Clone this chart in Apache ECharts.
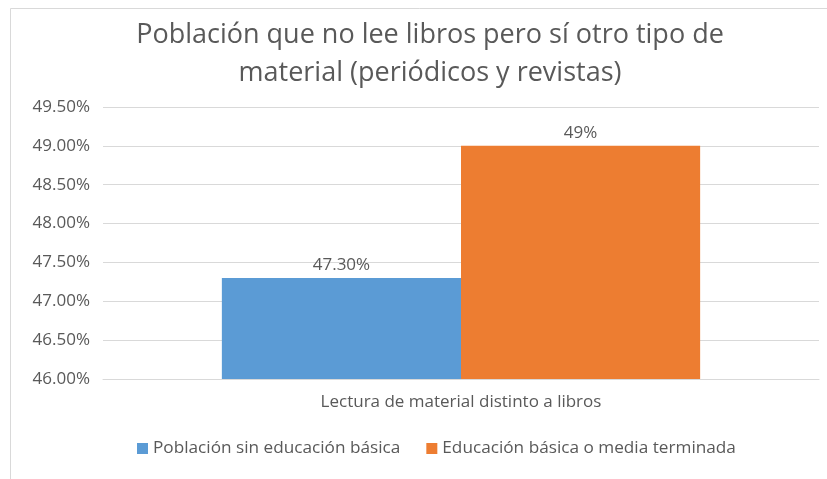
<!DOCTYPE html>
<html>
<head>
<meta charset="utf-8">
<script src="https://cdn.jsdelivr.net/npm/echarts@6/dist/echarts.min.js"></script>
<style>
html, body { margin: 0; padding: 0; background: #fff; }
#chart { width: 827px; height: 479px; }
</style>
</head>
<body>
<div id="chart"></div>
<script>
// datos
var categories = ['Lectura de material distinto a libros'];
var seriesNames = ['Población sin educación básica', 'Educación básica o media terminada'];
var sinEducacion = [47.3];
var educacionBasica = [49];
var dataLabels = ['47.30%', '49%'];
var yTicks = { min: 46, max: 49.5, interval: 0.5 };

var textColor = '#595959';
var fontFam = '"Open Sans", sans-serif';

var chart = echarts.init(document.getElementById('chart'));
chart.setOption({
  backgroundColor: '#fff',
  animation: false,
  title: {
    text: 'Población que no lee libros pero sí otro tipo de\nmaterial (periódicos y revistas)',
    left: 425,
    textAlign: 'center',
    top: 11,
    textStyle: {
      color: textColor,
      fontFamily: fontFam,
      fontWeight: 'normal',
      fontSize: 27,
      lineHeight: 38
    }
  },
  graphic: [{
    type: 'rect',
    shape: { x: 10.5, y: 8.5, width: 830, height: 480 },
    style: { fill: 'none', stroke: '#d9d9d9', lineWidth: 1 },
    silent: true
  }],
  legend: {
    bottom: 17,
    left: 132,
    itemWidth: 11,
    itemHeight: 11,
    itemGap: 26,
    icon: 'rect',
    textStyle: { color: textColor, fontFamily: fontFam, fontSize: 17.2 },
    data: seriesNames
  },
  grid: {
    left: 103,
    right: 8,
    top: 107,
    bottom: 100
  },
  xAxis: {
    type: 'category',
    data: categories,
    axisLine: { lineStyle: { color: '#d9d9d9' } },
    axisTick: { show: false },
    axisLabel: { color: textColor, fontFamily: fontFam, fontSize: 17, margin: 15 }
  },
  yAxis: {
    type: 'value',
    min: yTicks.min,
    max: yTicks.max,
    interval: yTicks.interval,
    axisLine: { show: false },
    axisTick: { show: false },
    splitLine: { lineStyle: { color: '#d9d9d9' } },
    axisLabel: {
      color: textColor,
      fontFamily: fontFam,
      fontSize: 17,
      margin: 13,
      formatter: function (v) { return v.toFixed(2) + '%'; }
    }
  },
  series: [{
    name: seriesNames[0],
    type: 'bar',
    data: sinEducacion,
    barGap: '0%',
    barCategoryGap: '33.2%',
    itemStyle: { color: '#5b9bd5' },
    label: {
      show: true,
      position: 'top',
      distance: 4,
      color: textColor,
      fontFamily: fontFam,
      fontSize: 17,
      formatter: function () { return dataLabels[0]; }
    }
  }, {
    name: seriesNames[1],
    type: 'bar',
    data: educacionBasica,
    itemStyle: { color: '#ed7d31' },
    label: {
      show: true,
      position: 'top',
      distance: 4,
      color: textColor,
      fontFamily: fontFam,
      fontSize: 17,
      formatter: function () { return dataLabels[1]; }
    }
  }]
});
</script>
</body>
</html>
